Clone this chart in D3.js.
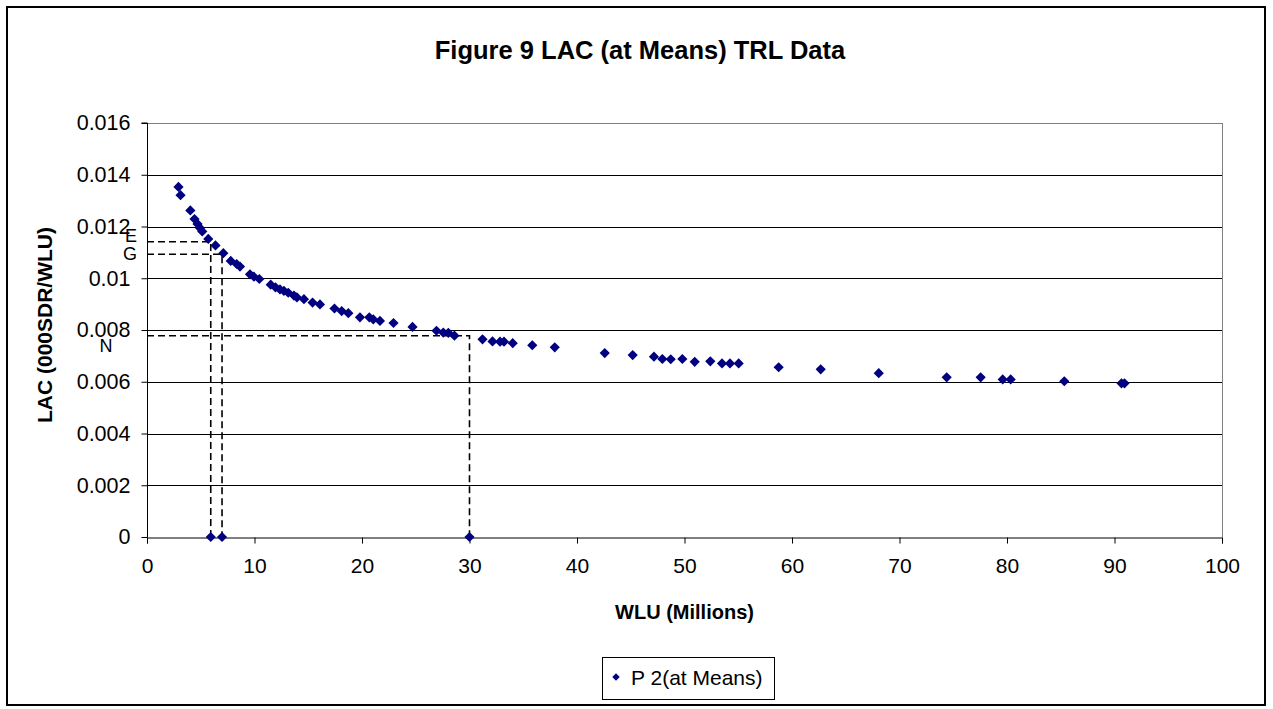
<!DOCTYPE html>
<html><head><meta charset="utf-8">
<script src="https://cdn.jsdelivr.net/npm/d3@7"></script>
<style>body{margin:0;background:#fff;}svg{display:block;font-family:Arial,"Liberation Sans",sans-serif;}</style>
</head><body>
<svg id="c" width="1273" height="709"></svg>
<script>
// Scatter series "P 2(at Means)"
const wlu = [2.93,3.12,4.03,4.42,4.70,4.93,5.14,5.70,6.37,7.10,7.79,8.34,8.65,9.58,9.95,10.45,11.51,11.95,12.37,12.74,13.14,13.67,13.95,14.60,15.40,16.09,17.44,18.11,18.73,19.81,20.68,21.05,21.67,22.93,24.70,26.93,27.56,28.03,28.60,31.21,32.14,32.84,33.21,34.02,35.84,37.93,42.58,45.18,47.16,47.94,48.72,49.80,50.95,52.40,53.49,54.23,55.04,58.76,62.67,68.07,74.39,77.55,79.60,80.34,85.33,90.65,90.93, 5.93,6.98,30.0];
const lac = [0.01353,0.01321,0.01262,0.01229,0.01210,0.01194,0.01181,0.01152,0.01127,0.01097,0.01067,0.01055,0.01045,0.01015,0.01006,0.00997,0.00975,0.00965,0.00957,0.00951,0.00944,0.00933,0.00926,0.00919,0.00906,0.00899,0.00883,0.00873,0.00865,0.00849,0.00849,0.00841,0.00835,0.00827,0.00812,0.00797,0.00790,0.00789,0.00778,0.00764,0.00756,0.00755,0.00755,0.00749,0.00741,0.00733,0.00711,0.00703,0.00697,0.00688,0.00687,0.00688,0.00677,0.00679,0.00671,0.00671,0.00671,0.00656,0.00648,0.00633,0.00617,0.00617,0.00609,0.00609,0.00602,0.00594,0.00594, 0,0,0];
// Reference markers (dashed drop lines)
const refLabels = ["E","G","N"];
const refX = [5.93,6.98,30.0];
const refY = [0.011413,0.010926,0.00778];
const xTicks = [0,10,20,30,40,50,60,70,80,90,100];
const yTicks = [0,0.002,0.004,0.006,0.008,0.01,0.012,0.014,0.016];
const yTickLabels = ["0","0.002","0.004","0.006","0.008","0.01","0.012","0.014","0.016"];
const title = "Figure 9 LAC (at Means) TRL Data";
const xTitle = "WLU (Millions)";
const yTitle = "LAC (000SDR/WLU)";
const legendLabel = "P 2(at Means)";

const svg = d3.select("#c");
const L=147,R=1222,T=123,B=537;
const x = d3.scaleLinear().domain([0,100]).range([L,R]);
const y = d3.scaleLinear().domain([0,0.016]).range([B,T]);
const navy = "#000080";

// outer border
svg.append("rect").attr("x",7).attr("y",7).attr("width",1258).attr("height",698)
  .attr("fill","none").attr("stroke","#000").attr("stroke-width",2);

// title
svg.append("text").attr("x",640).attr("y",59).attr("text-anchor","middle")
  .attr("font-size",25.5).attr("font-weight","bold").text(title);

// gridlines
svg.append("g").selectAll("line").data(yTicks.filter(d=>d>0)).join("line")
  .attr("x1",L).attr("x2",R).attr("y1",d=>Math.round(y(d))+0.5).attr("y2",d=>Math.round(y(d))+0.5)
  .attr("stroke",d=>d===0.016?"#808080":"#000").attr("stroke-width",1);
// right border of plot
svg.append("line").attr("x1",R+0.5).attr("x2",R+0.5).attr("y1",T).attr("y2",B).attr("stroke","#808080");

// axes
const yAxis = d3.axisLeft(y).tickValues(yTicks).tickFormat((d,i)=>yTickLabels[i]).tickSize(6).tickPadding(11);
const gy = svg.append("g").attr("transform",`translate(${L+0.5},0)`).call(yAxis);
gy.selectAll("text").attr("font-size",21.5).attr("fill","#000").attr("font-family","Arial,'Liberation Sans',sans-serif");
gy.selectAll("line,path").attr("stroke","#000");
const xAxis = d3.axisBottom(x).tickValues(xTicks).tickFormat(d3.format("d")).tickSize(6).tickPadding(15);
const gx = svg.append("g").attr("transform",`translate(0,${B+0.5})`).call(xAxis);
gx.selectAll("text").attr("font-size",21).attr("fill","#000").attr("font-family","Arial,'Liberation Sans',sans-serif");
gx.selectAll("line,path").attr("stroke","#000");
gy.select("path").attr("d",`M-6,${T}H0V${B+0.5}`);

// axis titles
svg.append("text").attr("x",(L+R)/2).attr("y",619).attr("text-anchor","middle")
  .attr("font-size",20).attr("font-weight","bold").text(xTitle);
svg.append("text").attr("transform",`translate(52,325) rotate(-90)`).attr("text-anchor","middle")
  .attr("font-size",21).attr("font-weight","bold").text(yTitle);

// dashed reference lines
const gRef = svg.append("g").attr("stroke","#000").attr("stroke-width",1.6).attr("stroke-dasharray","7,4").attr("fill","none");
refX.forEach((rx,i)=>{
  gRef.append("path").attr("d",`M${L},${y(refY[i])}H${x(rx)}V${B}`);
});
// reference labels
const refLabelPos = [{dx:-16,dy:-4},{dx:-17,dy:1},{dx:-41,dy:12}];
refLabels.forEach((t,i)=>{
  svg.append("text").attr("x",L+refLabelPos[i].dx).attr("y",y(refY[i])+refLabelPos[i].dy)
    .attr("text-anchor","middle").attr("dominant-baseline","middle").attr("font-size",18).text(t);
});

// points
const sym = d3.symbol().type(d3.symbolSquare).size(52);
svg.append("g").selectAll("path").data(wlu.map((d,i)=>[d,lac[i]])).join("path")
  .attr("d",sym).attr("fill",navy)
  .attr("transform",d=>`translate(${x(d[0])},${y(d[1])}) rotate(45)`);

// legend
svg.append("rect").attr("x",602.5).attr("y",657.5).attr("width",172).attr("height",42)
  .attr("fill","#fff").attr("stroke","#000");
svg.append("path").attr("d",d3.symbol().type(d3.symbolSquare).size(28)).attr("fill",navy)
  .attr("transform","translate(616,677) rotate(45)");
svg.append("text").attr("x",631).attr("y",685).attr("font-size",21).text(legendLabel);
</script>
</body></html>
